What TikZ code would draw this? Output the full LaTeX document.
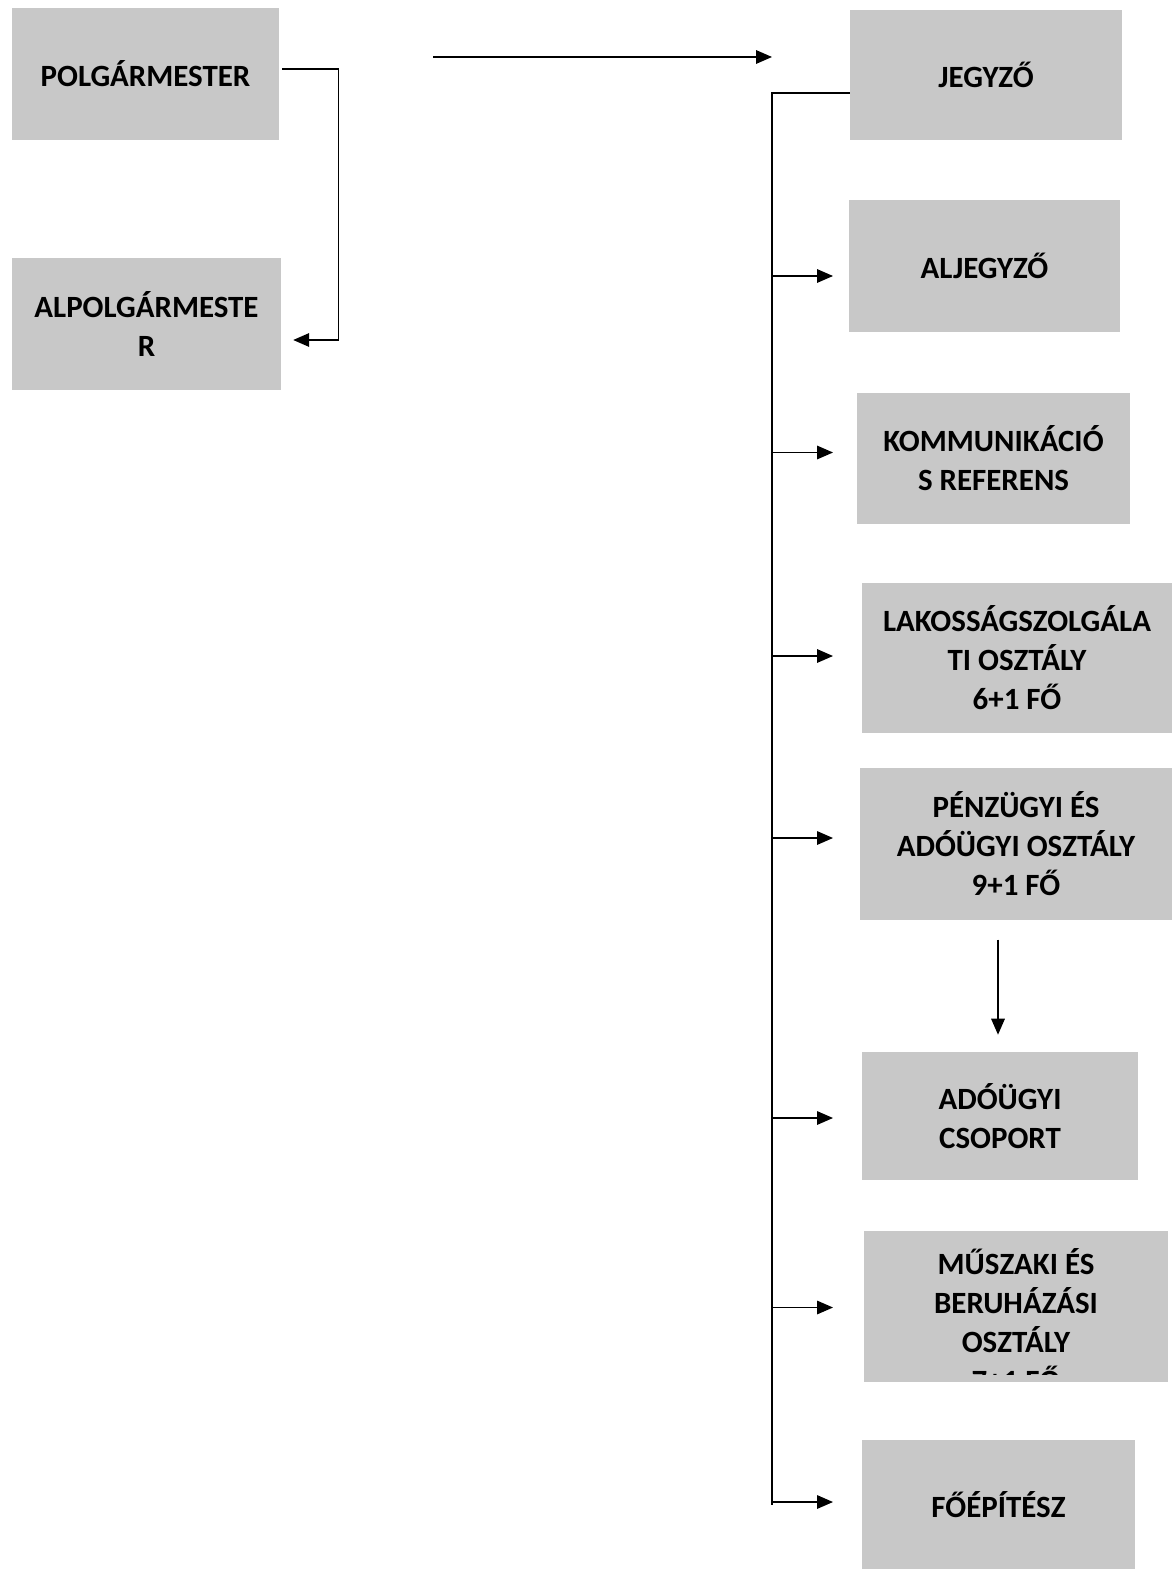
\documentclass[tikz,border=0pt]{standalone}
\usepackage{fontspec}
\setmainfont{Carlito}
\usepackage{tikz}
\usetikzlibrary{positioning, arrows.meta, calc}
\definecolor{boxgray}{RGB}{200,200,200}

\begin{document}
\begin{tikzpicture}[x=0.025cm, y=-0.025cm,
  box/.style={rectangle, draw=none, fill=boxgray, align=center, inner sep=0pt, font=\fontsize{22}{27.7}\selectfont\bfseries},
  conn/.style={line width=0.9pt, draw=black},
  arrow/.style={-{Triangle[length=4mm, width=3.4mm]}, line width=0.9pt, draw=black}
]
\useasboundingbox (0,0) rectangle (1173,1569);

\node[box, minimum width=6.68cm, minimum height=3.3cm] (polg) at (145.5,74) {POLGÁRMESTER};
\node[box, minimum width=6.72cm, minimum height=3.3cm] (alpolg) at (146.5,324) {ALPOLGÁRMESTE\\R};

\node[box, minimum width=6.8cm, minimum height=3.25cm] (jegyzo) at (986,75) {JEGYZŐ};
\node[box, minimum width=6.78cm, minimum height=3.3cm] (aljegyzo) at (984.5,266) {ALJEGYZŐ};
\node[box, minimum width=6.83cm, minimum height=3.28cm] (komm) at (993.5,458.5) {KOMMUNIKÁCIÓ\\S REFERENS};
\node[box, minimum width=7.75cm, minimum height=3.75cm] (lakos) at (1017,658) {LAKOSSÁGSZOLGÁLA\\TI OSZTÁLY\\6+1 FŐ};
\node[box, minimum width=7.8cm, minimum height=3.8cm] (penz) at (1016,844) {PÉNZÜGYI ÉS\\ADÓÜGYI OSZTÁLY\\9+1 FŐ};
\node[box, minimum width=6.9cm, minimum height=3.2cm] (adougyi) at (1000,1116) {ADÓÜGYI\\CSOPORT};
\node[box, minimum width=7.6cm, minimum height=3.78cm] (muszaki) at (1016,1306.5) {};
\begin{scope}
  \clip (muszaki.north west) rectangle ($(muszaki.south east)+(0,-8)$);
  \node[box, fill=none] (muszakitext) at ($(muszaki.center)+(0,14)$) {MŰSZAKI ÉS\\BERUHÁZÁSI\\OSZTÁLY\\7+1 FŐ};
\end{scope}
\node[box, minimum width=6.83cm, minimum height=3.25cm] (foepitesz) at (998.5,1505) {FŐÉPÍTÉSZ};

\coordinate (topstart) at (433,57);
\coordinate (topend) at (772,57);
\draw[arrow] (topstart) -- (topend);

\draw[arrow] ($(polg.east)+(3,-5)$) -| ($(alpolg.east)+(57,16)$) -- ($(alpolg.east)+(12,16)$);

\coordinate (trunktop) at (772,93);
\draw[conn] ($(jegyzo.west)+(0,18)$) -- (trunktop) -- (trunktop |- foepitesz.west);
\foreach \n/\dy in {aljegyzo/10, komm/-6, lakos/-2, penz/-6, adougyi/2, muszaki/1, foepitesz/-3}
  \draw[arrow] ($(trunktop |- \n.west)+(0,\dy)$) -- ++(61,0);

\draw[arrow] ($(adougyi.north)+(-2,-112)$) -- ($(adougyi.north)+(-2,-17)$);
\end{tikzpicture}
\end{document}
